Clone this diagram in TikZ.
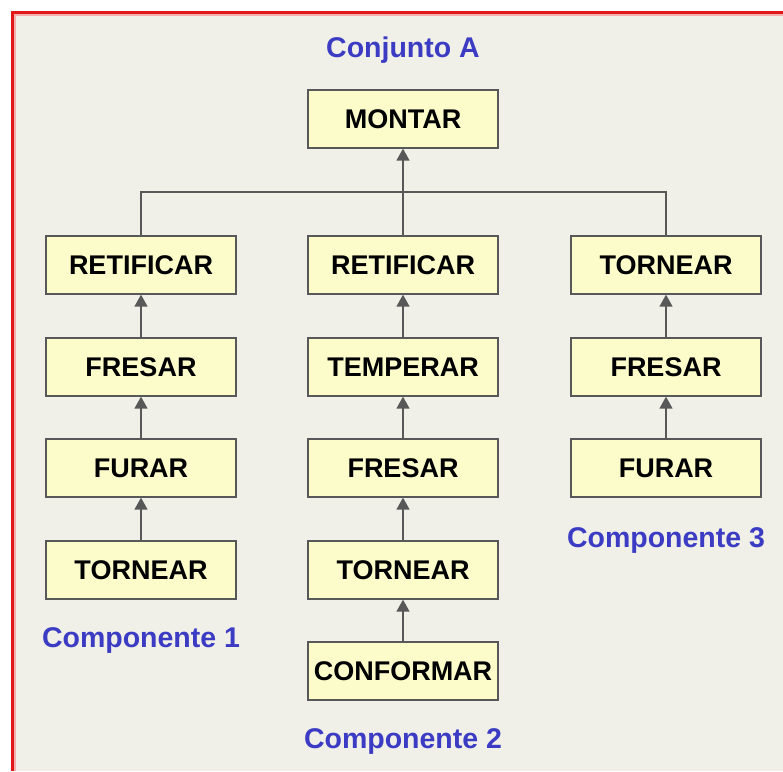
\documentclass[tikz,border=0pt]{standalone}
\usepackage{fontspec}
\setmainfont{Liberation Sans}
\usetikzlibrary{arrows.meta}
\definecolor{panel}{HTML}{F0F0E9}
\definecolor{boxfill}{HTML}{FCFCCB}
\definecolor{boxline}{HTML}{585858}
\definecolor{title}{HTML}{3B3BC4}
\definecolor{frame}{HTML}{E01818}
\begin{document}
\begin{tikzpicture}[x=1pt,y=1pt,
  stepbox/.style={draw=boxline,line width=1.3pt,fill=boxfill,minimum width=190pt,minimum height=58pt,
    inner sep=0pt,font=\fontsize{27}{30}\selectfont\bfseries},
  caption/.style={text=title,font=\fontsize{28.5}{31}\selectfont\bfseries},
  link/.style={draw=boxline,line width=1.4pt},
  flow/.style={link,-{Triangle[width=13pt,length=12pt]}}]
  % page and panel
  \useasboundingbox (0,0) rectangle (783,-771);
  \fill[white] (0,0) rectangle (783,-771);
  \fill[panel] (12,-12) rectangle (783,-771);
  \draw[frame!35,line width=2pt] (15,-771) -- (15,-15) -- (783,-15);
  \draw[frame,line width=3pt] (12.5,-771) -- (12.5,-12.5) -- (783,-12.5);

  % assembly
  \node[caption] (conj) at (403,-50) {Conjunto A};
  \node[stepbox] (mont) at (403,-119) {MONTAR};

  % component 1
  \node[stepbox] (a1) at (141,-265) {RETIFICAR};
  \node[stepbox] (a2) at (141,-367) {FRESAR};
  \node[stepbox] (a3) at (141,-468) {FURAR};
  \node[stepbox] (a4) at (141,-570) {TORNEAR};
  \node[caption] (comp1) at (141,-640) {Componente 1};

  % component 2
  \node[stepbox] (b1) at (403,-265) {RETIFICAR};
  \node[stepbox] (b2) at (403,-367) {TEMPERAR};
  \node[stepbox] (b3) at (403,-468) {FRESAR};
  \node[stepbox] (b4) at (403,-570) {TORNEAR};
  \node[stepbox] (b5) at (403,-671) {CONFORMAR};
  \node[caption] (comp2) at (403,-741) {Componente 2};

  % component 3
  \node[stepbox] (c1) at (666,-265) {TORNEAR};
  \node[stepbox] (c2) at (666,-367) {FRESAR};
  \node[stepbox] (c3) at (666,-468) {FURAR};
  \node[caption] (comp3) at (666,-540) {Componente 3};

  % collecting bus into the assembly
  \coordinate (bus) at (403,-192);
  \draw[link] (a1.north) |- (bus) -| (c1.north);
  \draw[flow] (b1.north) -- (mont.south);

  % operation sequences
  \draw[flow] (a2.north) -- (a1.south);
  \draw[flow] (a3.north) -- (a2.south);
  \draw[flow] (a4.north) -- (a3.south);
  \draw[flow] (b2.north) -- (b1.south);
  \draw[flow] (b3.north) -- (b2.south);
  \draw[flow] (b4.north) -- (b3.south);
  \draw[flow] (b5.north) -- (b4.south);
  \draw[flow] (c2.north) -- (c1.south);
  \draw[flow] (c3.north) -- (c2.south);
\end{tikzpicture}
\end{document}
